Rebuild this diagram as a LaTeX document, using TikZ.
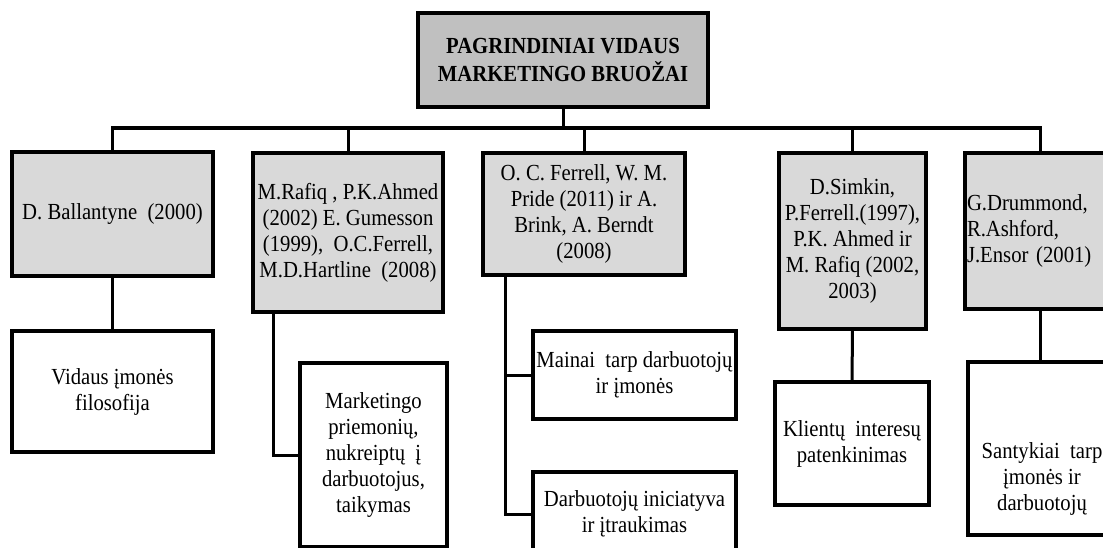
\documentclass[tikz,border=0pt]{standalone}
\usepackage{fontspec}
\setmainfont[FakeStretch=0.9]{Liberation Serif}
\definecolor{headgray}{HTML}{C0C0C0}
\definecolor{srcgray}{HTML}{D9D9D9}
\begin{document}
\begin{tikzpicture}[x=1pt,y=-1pt,
  box/.style={draw=black, line width=4pt, rectangle, inner sep=0pt, outer sep=0pt,
    align=center, line join=miter, font=\fontsize{23}{26}\selectfont},
  hdr/.style={box, fill=headgray, font=\fontsize{23}{28}\bfseries\selectfont},
  src/.style={box, fill=srcgray},
  feat/.style={box, fill=white},
  link/.style={line width=3pt, line join=miter},
  busline/.style={line width=4pt, line cap=rect},
  txt/.style={inner sep=0pt, align=center, font=\fontsize{23}{26}\selectfont}
]
\fill[white] (0,0) rectangle (1103,548);
\useasboundingbox (0,0) rectangle (1103,548);
\clip (0,0) rectangle (1103,548);

% heading
\node[hdr, minimum width=290pt, minimum height=94pt] (top) at (563,60)
  {PAGRINDINIAI VIDAUS\\MARKETINGO BRUOŽAI};

% sources
\node[src, minimum width=201pt, minimum height=124pt] (b1) at (112.5,214)
  {D. Ballantyne\ \ (2000)};
\node[src, minimum width=190pt, minimum height=159pt] (b2) at (348,232.5)
  {M.Rafiq , P.K.Ahmed\\(2002) E. Gumesson\\(1999),\ \ O.C.Ferrell,\\M.D.Hartline\ \ (2008)};
\node[src, minimum width=202pt, minimum height=122pt] (b3) at (584,214)
  {O. C. Ferrell, W. M.\\Pride (2011) ir A.\\Brink, A. Berndt\\(2008)};
\node[src, minimum width=147pt, minimum height=176pt] (b4) at (852.5,241)
  {D.Simkin,\\P.Ferrell.(1997),\\P.K. Ahmed ir\\M. Rafiq (2002,\\2003)};
\node[src, minimum width=150pt, minimum height=156pt, align=left,
  text width=146pt, inner xsep=2pt] (b5) at (1040,231)
  {G.Drummond,\\R.Ashford,\\J.Ensor (2001)};

% features
\node[feat, minimum width=201pt, minimum height=121pt] (c1) at (112.5,391.5)
  {Vidaus įmonės\\filosofija};
\node[feat, minimum width=147pt, minimum height=184pt] (c2) at (373.5,455)
  {Marketingo\\priemonių,\\nukreiptų\ \ į\\darbuotojus,\\taikymas};
\node[feat, minimum width=203pt, minimum height=88pt] (c3a) at (634.5,375)
  {Mainai\ \ tarp darbuotojų\\ir įmonės};
\node[feat, minimum width=203pt, minimum height=84pt] (c3b) at (634.5,514)
  {Darbuotojų iniciatyva\\ir įtraukimas};
\node[feat, minimum width=154pt, minimum height=123pt] (c4) at (852,443.5)
  {Klientų\ \ interesų\\patenkinimas};
\node[feat, minimum width=148pt, minimum height=173pt] (c5) at (1042,448.5) {};
\node[txt] (c5t) at ([yshift=-30pt]c5.center)
  {Santykiai\ \ tarp\\įmonės ir\\darbuotojų};

% connectors from the heading
\coordinate (bus) at (0,128);
\draw[link] (top.south) -- (top.south |- bus);
\draw[busline] (b1.north |- bus) -- (b5.north |- bus);
\foreach \b in {b1,b2,b3,b4,b5}
  \draw[link] (\b.north) -- (\b.north |- bus);

% connectors from the sources
\draw[link] (b1.south) -- (c1.north);
\draw[link] ([xshift=-75pt]b2.south) |- (c2.west);
\coordinate (s3) at ([xshift=-79pt]b3.south);
\draw[link] (s3) |- (c3b.west);
\draw[link] (c3a.west) -- (c3a.west -| s3);
\draw[link] (b4.south) -- (c4.north);
\draw[link] (b5.south) -- (b5.south |- c5.north);
\end{tikzpicture}
\end{document}
